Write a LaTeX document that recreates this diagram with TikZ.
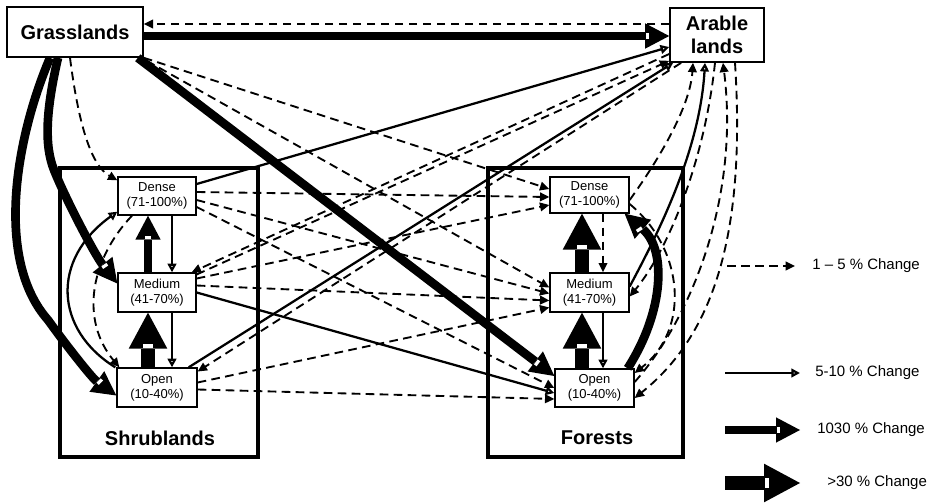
\documentclass[tikz,border=0pt]{standalone}
\usepackage{fontspec}
\setmainfont{Liberation Sans}
\usetikzlibrary{arrows.meta,calc,decorations.markings}

\begin{document}
\begin{tikzpicture}[x=0.75pt,y=-0.75pt,
  landbox/.style={draw,line width=1.2pt,fill=white,inner sep=0pt,align=center,
    font=\bfseries\fontsize{15}{17}\selectfont},
  regionbox/.style={draw,line width=2.4pt,inner sep=0pt},
  regionlabel/.style={inner sep=0pt,font=\bfseries\fontsize{15}{18}\selectfont},
  classbox/.style={draw,line width=1pt,fill=white,inner sep=0pt,align=center,
    minimum width=58.5pt,minimum height=28.5pt,font=\fontsize{9.75}{11.25}\selectfont},
  minor/.style={line width=1.4pt,dash pattern=on 6.5pt off 4pt,
    -{Triangle[length=7pt,width=6.5pt]}},
  modest/.style={line width=1.7pt,-{Triangle[open,length=6.5pt,width=6.5pt]}},
  major/.style={line width=6.5pt,-{Triangle[length=18pt,width=19pt,line width=0pt]},
    postaction={decorate,decoration={markings,
      mark=at position -18pt with {\fill[white] (0.6pt,-2.3pt) rectangle (3pt,2.3pt);}}}},
  extreme/.style={line width=10pt,-{Triangle[length=27pt,width=29pt,line width=0pt]},
    postaction={decorate,decoration={markings,
      mark=at position -27pt with {\fill[white] (0.6pt,-3.8pt) rectangle (3.8pt,3.8pt);}}}},
  legendtext/.style={anchor=west,inner sep=0pt,font=\fontsize{11.25}{13}\selectfont}
]
\useasboundingbox (0,0) rectangle (936,503);

% land-cover regions
\node[regionbox,minimum width=148.5pt,minimum height=216.75pt] (shrubs) at (159,312.5) {};
\node[regionbox,minimum width=146.25pt,minimum height=216.75pt] (forests) at (585.5,312.5) {};
\node[regionlabel] (shrubname) at (160,438) {Shrublands};
\node[regionlabel] (forestname) at (597,438) {Forests};

% top-level classes
\node[landbox,minimum width=102pt,minimum height=37.5pt] (G) at (75,32) {Grasslands};
\node[landbox,minimum width=70.5pt,minimum height=40.5pt] (A) at (717,35) {Arable\\lands};

% density classes
\node[classbox] (SD) at (157,196) {Dense\\(71-100\%)};
\node[classbox,minimum height=29.25pt] (SM) at (157,292.5) {Medium\\(41-70\%)};
\node[classbox,minimum width=60pt,minimum height=29.25pt] (SO) at (157,387.5) {Open\\(10-40\%)};
\node[classbox,minimum width=59.25pt,minimum height=27pt] (FD) at (589.5,195) {Dense\\(71-100\%)};
\node[classbox,minimum width=59.25pt,minimum height=29.25pt] (FM) at (589.5,292.5) {Medium\\(41-70\%)};
\node[classbox,minimum width=59.25pt] (FO) at (594.5,388) {Open\\(10-40\%)};

% from grasslands
\draw[major] ($(G.east)+(0,4)$) -- ($(A.west)+(0,1)$);
\draw[minor] ($(A.west)+(0,-11)$) -- ($(G.east)+(0,-8)$);
\draw[minor] ($(G.south)+(-5,0)$) .. controls (78,120) and (90,165) .. ($(SD.north west)+(0,4)$);
\draw[major] ($(G.south)+(-17,0)$) .. controls (46,110) and (44,145) .. (54,170)
  .. controls (66,200) and (95,255) .. ($(SM.west)+(0,-9)$);
\draw[major] ($(G.south)+(-25,0)$) .. controls (15,140) and (-5,260) .. (48,320)
  .. controls (66,345) and (92,378) .. ($(SO.west)+(0,8)$);
\draw[major] ($(G.south east)+(-6,0)$) -- ($(FO.west)+(0,-12)$);
\draw[minor] (G.south east) -- ($(FD.west)+(0,-6)$);
\draw[minor] ($(G.south east)+(3,3)$) -- ($(FM.west)+(0,-5)$);

% from shrubland classes to arable lands and forests
\draw[modest] ($(SD.east)+(0,-12)$) -- ($(A.west)+(0,12)$);
\draw[minor] ($(SD.east)+(0,-4)$) -- ($(FD.west)+(0,2)$);
\draw[minor] ($(SD.east)+(0,4)$) -- ($(FM.west)+(0,1)$);
\draw[minor] ($(SD.east)+(0,11)$) -- (FO.west);
\draw[minor] ($(SM.east)+(0,-14)$) -- ($(FD.west)+(0,10)$);
\draw[minor] ($(SM.east)+(0,-18)$) -- ($(A.south west)+(0,-2)$);
\draw[minor] ($(A.west)+(0,19)$) -- ($(SM.north east)+(-5,0)$);
\draw[minor] ($(SM.east)+(0,-7)$) -- ($(FM.west)+(0,8)$);
\draw[modest] (SM.east) -- ($(FO.west)+(0,5)$);
\draw[modest] ($(SO.north east)+(-9,0)$) -- ($(A.south west)+(4,0)$);
\draw[minor] ($(A.south west)+(12,0)$) -- ($(SO.east)+(0,-16)$);
\draw[minor] ($(SO.east)+(0,-5)$) -- ($(FM.west)+(0,15)$);
\draw[minor] ($(SO.east)+(0,2)$) -- ($(FO.west)+(0,11)$);

% within shrublands
\draw[major] ($(SM.north)+(-9,0)$) -- ($(SD.south)+(-9,0)$);
\draw[modest] ($(SD.south)+(15,0)$) -- ($(SM.north)+(15,0)$);
\draw[extreme] ($(SO.north)+(-9,0)$) -- ($(SM.south)+(-9,0)$);
\draw[modest] ($(SM.south)+(15,0)$) -- ($(SO.north)+(15,0)$);
\draw[modest] ($(SO.north west)+(-1,0)$) .. controls (55,330) and (50,260) .. ($(SD.south west)+(0,-4)$);
\draw[minor] ($(SD.south)+(-25,0)$) .. controls (90,260) and (80,320) .. ($(SO.north west)+(3,0)$);

% within forests
\draw[extreme] ($(FM.north)+(-7.5,0)$) -- ($(FD.south)+(-7.5,0)$);
\draw[minor] ($(FD.south)+(13.5,0)$) -- ($(FM.north)+(13.5,0)$);
\draw[extreme] ($(FO.north)+(-12.5,0)$) -- ($(FM.south)+(-7.5,0)$);
\draw[modest] ($(FM.south)+(13.5,0)$) -- ($(FO.north)+(8.5,0)$);
\draw[major] ($(FO.north east)+(-7,0)$) .. controls (665,310) and (666,249) .. ($(FD.south east)+(-5,0)$);
\draw[minor] ($(FD.east)+(0,9)$) .. controls (685,250) and (690,330) .. ($(FO.east)+(0,-15)$);

% between forests and arable lands
\draw[minor] ($(FD.east)+(0,5)$) .. controls (655,165) and (690,109) .. ($(A.south)+(-24,0)$);
\draw[modest] ($(FM.east)+(0,-6)$) .. controls (660,230) and (700,149) .. ($(A.south)+(-12,0)$);
\draw[minor] ($(A.south)+(-2,0)$) .. controls (705,159) and (669,249) .. ($(FM.east)+(0,4)$);
\draw[minor] ($(FO.east)+(0,-6)$) .. controls (690,320) and (740,199) .. ($(A.south)+(6,0)$);
\draw[minor] ($(A.south)+(18,0)$) .. controls (745,220) and (720,330) .. ($(FO.east)+(0,10)$);

% legend
\coordinate (k1a) at (727,266); \coordinate (k1b) at (795,266);
\coordinate (k2a) at (725,373); \coordinate (k2b) at (800,373);
\coordinate (k3a) at (725,430); \coordinate (k3b) at (800,430);
\coordinate (k4a) at (725,483); \coordinate (k4b) at (800,483);
\draw[minor] (k1a) -- (k1b);
\draw[modest] (k2a) -- (k2b);
\draw[major] (k3a) -- (k3b);
\draw[extreme] (k4a) -- (k4b);
\node[legendtext] (k1) at (812,266) {1 – 5 \% Change};
\node[legendtext] (k2) at (815,373) {5-10 \% Change};
\node[legendtext] (k3) at (817,430) {1030 \% Change};
\node[legendtext] (k4) at (827,483) {>30 \% Change};
\end{tikzpicture}
\end{document}
